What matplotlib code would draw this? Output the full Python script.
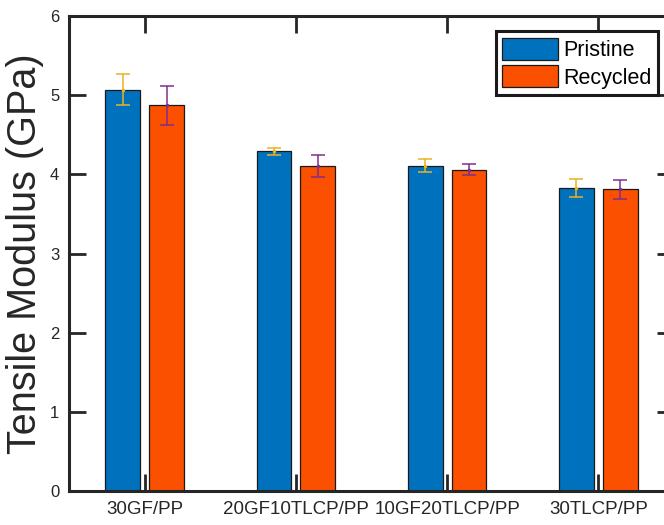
import numpy as np
import matplotlib
matplotlib.use('Agg')
import matplotlib.pyplot as plt

plt.rcParams['font.family'] = ['Liberation Sans', 'DejaVu Sans']

samples = ['30GF/PP', '20GF10TLCP/PP', '10GF20TLCP/PP', '30TLCP/PP']
pristine = [5.07, 4.29, 4.11, 3.83]
pristine_err = [0.20, 0.045, 0.08, 0.11]
recycled = [4.87, 4.11, 4.06, 3.81]
recycled_err = [0.25, 0.14, 0.07, 0.12]

blue = '#0072BD'
orange = '#FA5000'

fig = plt.figure(figsize=(6.64, 5.25), dpi=100)
ax = fig.add_axes([69/664, 34/525, 605/664, 475/525])

x = np.arange(1, len(samples) + 1)
w = 0.23
off = 0.145

ax.bar(x - off, pristine, w, color=blue, edgecolor='#1a1a1a', linewidth=0.9, label='Pristine', zorder=2)
ax.bar(x + off, recycled, w, color=orange, edgecolor='#1a1a1a', linewidth=0.9, label='Recycled', zorder=2)
ax.errorbar(x - off, pristine, yerr=pristine_err, fmt='.', markersize=3, color='#EDB120',
            ecolor='#EDB120', elinewidth=1.1, capsize=5, capthick=1.1, zorder=3)
ax.errorbar(x + off, recycled, yerr=recycled_err, fmt='.', markersize=3, color='#7E2F8E',
            ecolor='#7E2F8E', elinewidth=1.1, capsize=5, capthick=1.1, zorder=3)

ax.set_xlim(0.5, 4.5)
ax.set_ylim(0, 6)
ax.set_xticks(x)
ax.set_xticklabels(samples, fontsize=13.5)
ax.set_yticks(range(0, 7))
ax.tick_params(axis='both', direction='in', length=12, width=2, color='#262626',
               top=True, right=True, labelcolor='#262626')
ax.tick_params(axis='y', labelsize=12, pad=7)
ax.tick_params(axis='x', pad=7)
for s in ax.spines.values():
    s.set_linewidth(2.2)
    s.set_color('#262626')

ax.set_ylabel('Tensile Modulus (GPa)', fontsize=28.5, color='#262626')
ax.yaxis.set_label_coords(-0.042, 0.5)

leg = ax.legend(loc='upper right', bbox_to_anchor=(0.974, 0.968), borderaxespad=0,
                fontsize=15.5, handlelength=2.6, handleheight=1.2, handletextpad=0.25,
                labelspacing=0.2, borderpad=0.3, fancybox=False, framealpha=1)
leg.get_frame().set_edgecolor('#1a1a1a')
leg.get_frame().set_linewidth(2.2)

fig.savefig('out.png', dpi=100)
